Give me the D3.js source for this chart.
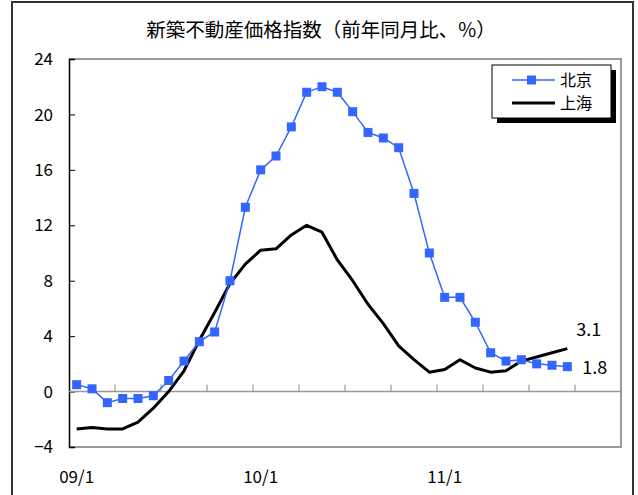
<!DOCTYPE html>
<html>
<head>
<meta charset="utf-8">
<script src="https://cdn.jsdelivr.net/npm/d3@7"></script>
<style>
  body { margin: 0; background: #fff; }
  svg { display: block; font-family: "Noto Sans CJK JP", "Noto Sans", sans-serif; }
</style>
</head>
<body>
<svg id="chart" width="638" height="495"></svg>
<script>
const months = [
  '09/1', '09/2', '09/3', '09/4', '09/5', '09/6', '09/7', '09/8', '09/9', '09/10', '09/11', '09/12',
  '10/1', '10/2', '10/3', '10/4', '10/5', '10/6', '10/7', '10/8', '10/9', '10/10', '10/11', '10/12',
  '11/1', '11/2', '11/3', '11/4', '11/5', '11/6', '11/7', '11/8', '11/9', '11/10', '11/11', '11/12'
];
const beijing = [0.5, 0.2, -0.8, -0.5, -0.5, -0.3, 0.8, 2.2, 3.6, 4.3, 8.0, 13.3,
  16.0, 17.0, 19.1, 21.6, 22.0, 21.6, 20.2, 18.7, 18.3, 17.6, 14.3, 10.0,
  6.8, 6.8, 5.0, 2.8, 2.2, 2.3, 2.0, 1.9, 1.8];
const shanghai = [-2.7, -2.6, -2.7, -2.7, -2.2, -1.2, 0.0, 1.5, 3.7, 5.7, 7.8, 9.2,
  10.2, 10.3, 11.3, 12.0, 11.5, 9.5, 8.0, 6.3, 4.9, 3.3, 2.3, 1.4,
  1.6, 2.3, 1.7, 1.4, 1.5, 2.2, 2.5, 2.8, 3.1];
const yTicks = [-4, 0, 4, 8, 12, 16, 20, 24];
const xLabels = ['09/1', '10/1', '11/1'];
const title = '新築不動産価格指数（前年同月比、%）';
const seriesNames = ['北京', '上海'];

const svg = d3.select('#chart');
const blue = '#3366ff';
const plot = { left: 69, right: 621, top: 59, bottom: 447 };

// outer frame
svg.append('rect')
  .attr('x', 12).attr('y', 2).attr('width', 621).attr('height', 520)
  .attr('fill', 'none').attr('stroke', '#333').attr('stroke-width', 2);

svg.append('text')
  .attr('x', 321).attr('y', 37)
  .attr('text-anchor', 'middle')
  .attr('font-size', 19.5)
  .text(title);

const x = d3.scaleBand().domain(months).range([plot.left, plot.right]);
const y = d3.scaleLinear().domain([-4, 24]).range([plot.bottom, plot.top]);
const cx = (d, i) => x(months[i]) + x.bandwidth() / 2;

// plot border (top, right, bottom)
svg.append('path')
  .attr('d', `M${plot.left},${plot.top}H${plot.right}V${plot.bottom}H${plot.left}`)
  .attr('fill', 'none').attr('stroke', '#999').attr('stroke-width', 2);

// y axis
const yAxis = svg.append('g')
  .attr('transform', `translate(${plot.left},0)`)
  .call(d3.axisRight(y).tickValues(yTicks).tickSize(6).tickFormat(''));
yAxis.select('.domain').attr('stroke', '#000').attr('stroke-width', 1.5);
yAxis.selectAll('.tick line').attr('stroke', '#000');

svg.append('g').selectAll('text')
  .data(yTicks)
  .join('text')
  .attr('x', 53).attr('y', d => y(d))
  .attr('dy', '0.36em')
  .attr('text-anchor', 'end')
  .attr('font-size', 17)
  .text(d => d < 0 ? '−' + Math.abs(d) : d);

// zero line with upward ticks every 3 months
svg.append('line')
  .attr('x1', plot.left).attr('x2', plot.right)
  .attr('y1', y(0)).attr('y2', y(0))
  .attr('stroke', '#999').attr('stroke-width', 1.5);
svg.append('g').selectAll('line')
  .data(months.filter((m, i) => i > 0 && i % 3 === 0))
  .join('line')
  .attr('x1', d => x(d)).attr('x2', d => x(d))
  .attr('y1', y(0)).attr('y2', y(0) - 7)
  .attr('stroke', '#888').attr('stroke-width', 1);

svg.append('g').selectAll('text')
  .data(xLabels)
  .join('text')
  .attr('x', d => x(d) + x.bandwidth() / 2)
  .attr('y', 483)
  .attr('text-anchor', 'middle')
  .attr('font-size', 17)
  .text(d => d);

const line = d3.line().x(cx).y(d => y(d));

svg.append('path')
  .datum(shanghai)
  .attr('d', line)
  .attr('fill', 'none').attr('stroke', '#000').attr('stroke-width', 3)
  .attr('stroke-linejoin', 'round');

svg.append('path')
  .datum(beijing)
  .attr('d', line)
  .attr('fill', 'none').attr('stroke', blue).attr('stroke-width', 1.5);

svg.append('g').selectAll('rect')
  .data(beijing)
  .join('rect')
  .attr('x', (d, i) => cx(d, i) - 4.5)
  .attr('y', d => y(d) - 4.5)
  .attr('width', 9).attr('height', 9)
  .attr('fill', blue);

// end labels
const last = beijing.length - 1;
svg.append('text')
  .attr('x', cx(null, last) + 9).attr('y', y(shanghai[last]) - 13)
  .attr('font-size', 18)
  .text(shanghai[last].toFixed(1));
svg.append('text')
  .attr('x', cx(null, last) + 15).attr('y', y(beijing[last]) + 1)
  .attr('dy', '0.36em')
  .attr('font-size', 18)
  .text(beijing[last].toFixed(1));

// legend
const lg = svg.append('g').attr('transform', 'translate(492,65)');
lg.append('rect').attr('x', 5).attr('y', 5).attr('width', 119).attr('height', 53).attr('fill', '#000');
lg.append('rect').attr('x', 0).attr('y', 0).attr('width', 119).attr('height', 53)
  .attr('fill', '#fff').attr('stroke', '#000').attr('stroke-width', 1);
lg.append('line').attr('x1', 20).attr('x2', 63).attr('y1', 15).attr('y2', 15)
  .attr('stroke', blue).attr('stroke-width', 1.5);
lg.append('rect').attr('x', 35).attr('y', 10.5).attr('width', 9).attr('height', 9).attr('fill', blue);
lg.append('line').attr('x1', 20).attr('x2', 63).attr('y1', 38).attr('y2', 38)
  .attr('stroke', '#000').attr('stroke-width', 3);
lg.selectAll('text.lab')
  .data(seriesNames)
  .join('text')
  .attr('class', 'lab')
  .attr('x', 68).attr('y', (d, i) => 15 + i * 23)
  .attr('dy', '0.36em')
  .attr('font-size', 16)
  .text(d => d);
</script>
</body>
</html>
